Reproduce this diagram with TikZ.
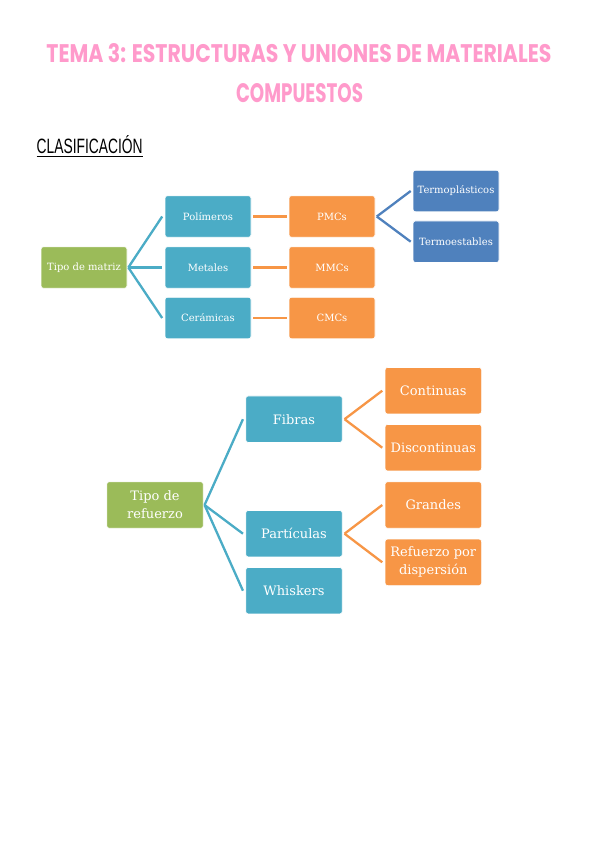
\documentclass[tikz,border=0pt]{standalone}
\usepackage{fontspec}
\setmainfont{DejaVu Serif}
\newfontfamily\titlefont{Poppins}[BoldFont=* Bold]
\newfontfamily\headfont{Liberation Sans}
\definecolor{cgreen}{HTML}{9BBB59}
\definecolor{cteal}{HTML}{4BACC6}
\definecolor{corange}{HTML}{F79646}
\definecolor{cblue}{HTML}{4F81BD}
\definecolor{cpink}{HTML}{FF9ACB}
\tikzset{
  box/.style={draw=white, line width=0.6pt, rounded corners=2.5pt, text=white, align=center, inner sep=0pt},
  sbox/.style={box, minimum width=86pt, minimum height=41.5pt, font=\fontsize{10}{12}\selectfont},
  bbox/.style={box, minimum width=96.5pt, minimum height=46.5pt, font=\fontsize{13}{18}\selectfont},
  link/.style={line width=2.3pt},
}
\begin{document}
\begin{tikzpicture}[x=1pt,y=-1pt]
\useasboundingbox (0,0) rectangle (599,848);
\fill[white] (0,0) rectangle (599,848);
% Title
\node[text=cpink, inner sep=0pt] (t1) at (299,53.3) {\resizebox{505pt}{19pt}{\titlefont\bfseries TEMA 3: ESTRUCTURAS Y UNIONES DE MATERIALES}};
\node[text=cpink, inner sep=0pt] (t2) at (299.5,93.5) {\resizebox{127pt}{19pt}{\titlefont\bfseries COMPUESTOS}};
\node[anchor=south west, inner sep=0pt] (cl) at (36.5,154) {\resizebox{106pt}{18pt}{\headfont CLASIFICACIÓN}};
\draw[line width=1.2pt] ([yshift=-2.5pt]cl.south west) -- ([yshift=-2.5pt]cl.south east);

% Diagram 1
\node[sbox, fill=cgreen] (tm) at (84,267.5) {Tipo de matriz};
\node[sbox, fill=cteal] (pol) at (208,216.5) {Polímeros};
\node[sbox, fill=cteal] (met) at (208,267.5) {Metales};
\node[sbox, fill=cteal] (cer) at (208,318) {Cerámicas};
\node[sbox, fill=corange] (pmc) at (332,216.5) {PMCs};
\node[sbox, fill=corange] (mmc) at (332,267.5) {MMCs};
\node[sbox, fill=corange] (cmc) at (332,318) {CMCs};
\node[sbox, fill=cblue] (tp) at (456,191) {Termoplásticos};
\node[sbox, fill=cblue] (te) at (456,241.7) {Termoestables};

\begin{scope}[link, cteal]
\draw ([xshift=1pt]tm.east) -- ([xshift=-2.5pt]pol.west);
\draw ([xshift=1pt]tm.east) -- ([xshift=-2.5pt]met.west);
\draw ([xshift=1pt]tm.east) -- ([xshift=-2.5pt]cer.west);
\end{scope}
\begin{scope}[link, corange]
\draw ([xshift=2pt]pol.east) -- ([xshift=-2pt]pmc.west);
\draw ([xshift=2pt]met.east) -- ([xshift=-2pt]mmc.west);
\draw ([xshift=2pt]cer.east) -- ([xshift=-2pt]cmc.west);
\end{scope}
\begin{scope}[link, cblue]
\draw ([xshift=1.5pt]pmc.east) -- ([xshift=-2pt]tp.west);
\draw ([xshift=1.5pt]pmc.east) -- ([xshift=-2pt]te.west);
\end{scope}

% Diagram 2
\node[bbox, fill=cgreen] (tr) at (155,505) {Tipo de\\refuerzo};
\node[bbox, fill=cteal] (fib) at (294,419.2) {Fibras};
\node[bbox, fill=cteal] (par) at (294,533.7) {Partículas};
\node[bbox, fill=cteal] (whi) at (294,590.7) {Whiskers};
\node[bbox, fill=corange] (con) at (433.3,390.7) {Continuas};
\node[bbox, fill=corange] (dis) at (433.3,447.7) {Discontinuas};
\node[bbox, fill=corange] (gra) at (433.3,505) {Grandes};
\node[bbox, fill=corange] (rdp) at (433.3,562.3) {Refuerzo por\\dispersión};

\begin{scope}[link, cteal]
\draw ([xshift=1pt]tr.east) -- ([xshift=-2.5pt]fib.west);
\draw ([xshift=1pt]tr.east) -- ([xshift=-2.5pt]par.west);
\draw ([xshift=1pt]tr.east) -- ([xshift=-2.5pt]whi.west);
\end{scope}
\begin{scope}[link, corange]
\draw ([xshift=2pt]fib.east) -- ([xshift=-2.5pt]con.west);
\draw ([xshift=2pt]fib.east) -- ([xshift=-2.5pt]dis.west);
\draw ([xshift=2pt]par.east) -- ([xshift=-2.5pt]gra.west);
\draw ([xshift=2pt]par.east) -- ([xshift=-2.5pt]rdp.west);
\end{scope}
\end{tikzpicture}
\end{document}
